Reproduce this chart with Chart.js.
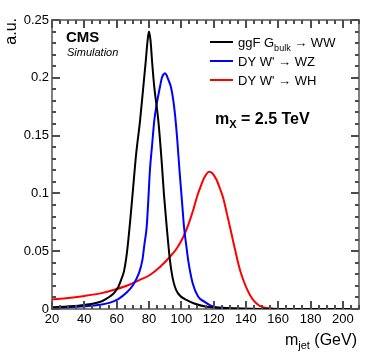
<!DOCTYPE html>
<html>
<head>
<meta charset="utf-8">
<script src="https://cdn.jsdelivr.net/npm/chart.js@4.4.0/dist/chart.umd.min.js"></script>
<style>
  html, body { margin: 0; padding: 0; background: #fff; }
  #wrap { width: 374px; height: 356px; }
</style>
</head>
<body>
<div id="wrap"><canvas id="myChart"></canvas></div>
<script>
// data block
const xTicks = [20, 40, 60, 80, 100, 120, 140, 160, 180, 200];
const yTicks = [0, 0.05, 0.1, 0.15, 0.2, 0.25];

// ggF G_bulk -> WW
const wwMass = [20, 30, 40, 50, 54, 56, 58.5, 61, 63, 64.6, 66.4, 68.3, 70.1, 72, 74.5, 76.9, 78, 79, 80, 81, 82, 83.3, 85.8, 87.8, 89.3, 91, 93, 94.5, 96.1, 98, 100, 103.4, 108, 115.7, 125, 140, 160, 210];
const wwVal = [0.0015, 0.0022, 0.0035, 0.0063, 0.0092, 0.011, 0.014, 0.019, 0.026, 0.033, 0.049, 0.075, 0.103, 0.133, 0.163, 0.198, 0.214, 0.23, 0.24, 0.232, 0.213, 0.192, 0.163, 0.129, 0.099, 0.071, 0.042, 0.028, 0.019, 0.0135, 0.0105, 0.0078, 0.0048, 0.002, 0.001, 0.0003, 0, 0];

// DY W' -> WZ
const wzMass = [20, 30, 40, 50, 56, 61, 66, 70.3, 73.8, 75.9, 77.2, 78.6, 79.6, 80.6, 81.9, 83.3, 85, 86.8, 88, 89, 90, 91, 91.8, 93.6, 95.3, 96.7, 97.6, 98.9, 100.4, 101.7, 103.1, 104.3, 107.1, 110.5, 114.7, 119.8, 125, 130, 140, 155, 210];
const wzVal = [0.001, 0.0015, 0.0023, 0.0037, 0.0055, 0.0085, 0.014, 0.021, 0.031, 0.042, 0.056, 0.071, 0.094, 0.12, 0.141, 0.163, 0.179, 0.192, 0.2, 0.203, 0.204, 0.202, 0.199, 0.192, 0.178, 0.16, 0.145, 0.12, 0.094, 0.071, 0.055, 0.042, 0.022, 0.0106, 0.006, 0.002, 0.001, 0.0005, 0.0002, 0, 0];

// DY W' -> WH
const whMass = [20, 30, 40, 50, 58, 67, 74, 80.6, 86.8, 93, 97.4, 101.3, 104.5, 107.4, 109.7, 111.6, 114.1, 117.2, 119.1, 121.9, 124, 126, 128, 130.1, 132.2, 134.3, 136.3, 138.4, 140.5, 142.5, 145, 147.7, 150, 153, 158, 165, 210];
const whVal = [0.0082, 0.0096, 0.0113, 0.0135, 0.0164, 0.0205, 0.025, 0.0294, 0.0363, 0.0452, 0.0528, 0.0625, 0.0735, 0.0856, 0.0969, 0.1044, 0.1133, 0.1188, 0.1176, 0.1116, 0.104, 0.0958, 0.084, 0.0712, 0.058, 0.0452, 0.034, 0.0251, 0.0178, 0.0121, 0.007, 0.0035, 0.0018, 0.0008, 0.0002, 0, 0];

const FONT = "'Liberation Sans', Arial, Helvetica, sans-serif";

function toPoints(xs, ys) {
  return xs.map((x, i) => ({ x: x, y: ys[i] }));
}

// draws text made of pieces [text, font, dy]
function richText(ctx, x, y, parts) {
  parts.forEach(([t, f, dy]) => {
    ctx.font = f;
    ctx.fillText(t, x, y + dy);
    x += ctx.measureText(t).width;
  });
  return x;
}
function richWidth(ctx, parts) {
  let w = 0;
  parts.forEach(([t, f]) => { ctx.font = f; w += ctx.measureText(t).width; });
  return w;
}

const legendParts = [
  [["ggF G", "13px " + FONT, 0], ["bulk", "9px " + FONT, 4], [" \u2192 WW", "13px " + FONT, 0]],
  [["DY W' \u2192 WZ", "13px " + FONT, 0]],
  [["DY W' \u2192 WH", "13px " + FONT, 0]],
];

// inward ticks on all four sides, major every 20 / 0.05
function drawTicks(chart) {
  const c = chart.ctx;
  const a = chart.chartArea;
  const xs = chart.scales.x, ys = chart.scales.y;
  c.save();
  c.strokeStyle = "#4d4d4d";
  c.lineWidth = 2;
  c.beginPath();
  for (let v = 20; v <= 210; v += 5) {
    const px = Math.round(xs.getPixelForValue(v));
    const len = v % 20 === 0 ? 8 : 4;
    c.moveTo(px, a.bottom);
    c.lineTo(px, a.bottom - len);
    c.moveTo(px, a.top);
    c.lineTo(px, a.top + len);
  }
  for (let k = 0; k <= 25; k++) {
    const py = Math.round(ys.getPixelForValue(k / 100));
    const len = k % 5 === 0 ? 8 : 4;
    c.moveTo(a.left, py);
    c.lineTo(a.left + len, py);
    c.moveTo(a.right, py);
    c.lineTo(a.right - len, py);
  }
  c.stroke();
  c.restore();
}

// frame, ticks and all free text
const rootStyle = {
  id: "rootStyle",
  beforeDatasetsDraw(chart) {
    const { ctx, chartArea: a } = chart;
    ctx.save();
    ctx.strokeStyle = "#808080";
    ctx.lineWidth = 2;
    ctx.strokeRect(a.left, a.top, a.right - a.left, a.bottom - a.top);
    ctx.restore();
  },
  afterDraw(chart) {
    drawTicks(chart);
    const { ctx } = chart;
    ctx.save();
    ctx.fillStyle = "#000";
    ctx.textBaseline = "alphabetic";
    ctx.textAlign = "left";

    // CMS label
    ctx.font = "bold 15px " + FONT;
    ctx.fillText("CMS", 66, 42);
    ctx.font = "italic 11px " + FONT;
    ctx.fillText("Simulation", 67, 56);

    // legend
    chart.data.datasets.forEach((ds, i) => {
      const y = 42 + i * 19;
      ctx.strokeStyle = ds.borderColor;
      ctx.lineWidth = 2;
      ctx.beginPath();
      ctx.moveTo(210, y);
      ctx.lineTo(233, y);
      ctx.stroke();
      richText(ctx, 238, y + 5, legendParts[i]);
    });

    // mass label
    richText(ctx, 215, 124, [["m", "bold 16px " + FONT, 0], ["X", "bold 11px " + FONT, 4], [" = 2.5 TeV", "bold 16px " + FONT, 0]]);

    // x title
    const xt = [["m", "16px " + FONT, 0], ["jet", "11px " + FONT, 4], [" (GeV)", "16px " + FONT, 0]];
    richText(ctx, 357 - richWidth(ctx, xt), 345, xt);

    // y title
    ctx.translate(12, 18);
    ctx.rotate(-Math.PI / 2);
    ctx.textAlign = "right";
    ctx.textBaseline = "middle";
    ctx.font = "16px " + FONT;
    ctx.fillText("a.u.", 0, 0);
    ctx.restore();
  },
};

// config block
const data = {
  datasets: [
    { label: "ggF G_bulk -> WW", data: toPoints(wwMass, wwVal), borderColor: "#000000" },
    { label: "DY W' -> WZ", data: toPoints(wzMass, wzVal), borderColor: "#0000ff" },
    { label: "DY W' -> WH", data: toPoints(whMass, whVal), borderColor: "#ff0000" },
  ],
};
data.datasets.forEach((ds) => {
  ds.borderWidth = 2;
  ds.pointRadius = 0;
  ds.fill = false;
  ds.cubicInterpolationMode = "monotone";
});

const config = {
  type: "line",
  data: data,
  options: {
    responsive: true,
    maintainAspectRatio: false,
    animation: false,
    layout: { padding: { top: 20, right: 15, left: 0, bottom: 0 } },
    plugins: { legend: { display: false }, tooltip: { enabled: false } },
    scales: {
      x: {
        type: "linear",
        min: 20,
        max: 210,
        afterBuildTicks: (s) => { s.ticks = xTicks.map((v) => ({ value: v })); },
        afterFit: (s) => { s.height = 47; },
        grid: { display: false, drawTicks: false },
        border: { display: false },
        ticks: { color: "#000", font: { family: FONT, size: 13 }, padding: 3, maxRotation: 0, autoSkip: false },
      },
      y: {
        type: "linear",
        min: 0,
        max: 0.25,
        afterBuildTicks: (s) => { s.ticks = yTicks.map((v) => ({ value: v })); },
        afterFit: (s) => { s.width = 52; },
        grid: { display: false, drawTicks: false },
        border: { display: false },
        ticks: {
          color: "#000",
          font: { family: FONT, size: 13 },
          padding: 3,
          callback: (v) => String(+v.toFixed(2)),
        },
      },
    },
  },
  plugins: [rootStyle],
};

// render init block
const ctx = document.getElementById("myChart");
const myChart = new Chart(ctx, config);
</script>
</body>
</html>
